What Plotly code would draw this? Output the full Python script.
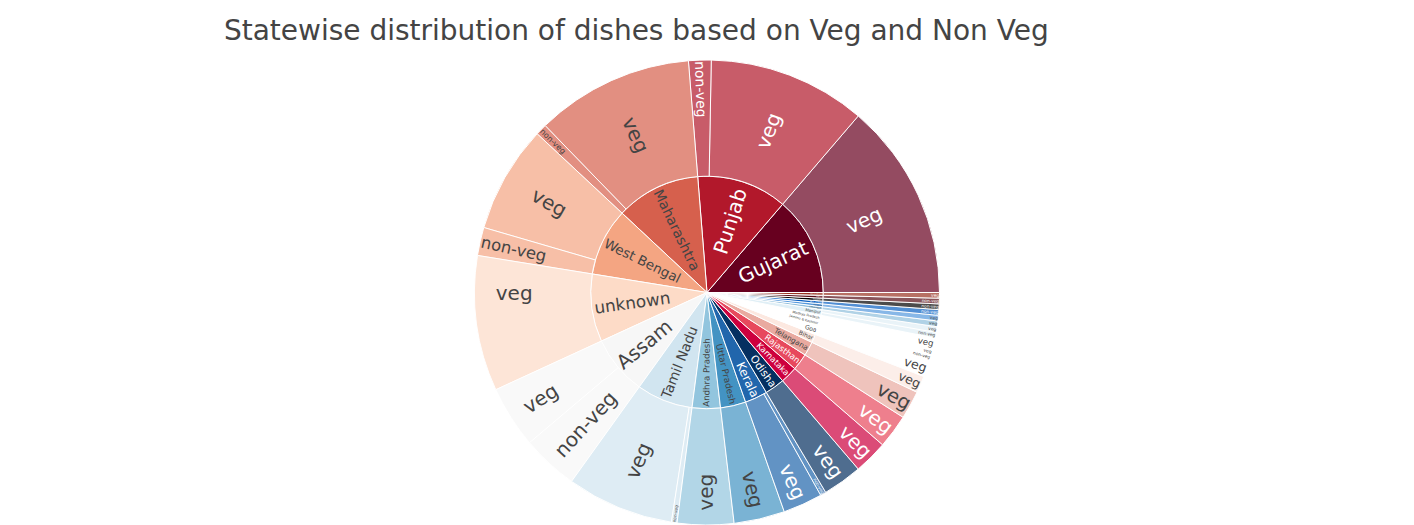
import plotly.graph_objects as go

# Number of dishes per state, split by diet
states = ["Gujarat", "Punjab", "Maharashtra", "West Bengal", "unknown", "Assam",
          "Tamil Nadu", "Andhra Pradesh", "Uttar Pradesh", "Kerala", "Odisha",
          "Karnataka", "Rajasthan", "Telangana", "Bihar", "Goa", "Jammu & Kashmir",
          "Madhya Pradesh", "Manipur", "Chhattisgarh", "Haryana", "NCT of Delhi",
          "Nagaland", "Tripura", "Uttarakhand"]
veg_counts = [35, 28, 28, 19, 24, 11, 19, 10, 9, 7, 7, 6, 6, 5, 3, 3, 1, 2, 1, 1, 1, 0, 0, 0, 1]
nonveg_counts = [0, 4, 2, 5, 0, 10, 1, 0, 0, 1, 0, 0, 0, 0, 0, 0, 1, 0, 1, 0, 0, 1, 1, 1, 0]

colorway = ['#67001f', '#b2182b', '#d6604d', '#f4a582', '#fddbc7', '#f7f7f7',
            '#d1e5f0', '#92c5de', '#4393c3', '#2166ac', '#053061']

ids, labels, parents, values = [], [], [], []
for s, v, n in zip(states, veg_counts, nonveg_counts):
    ids.append(s); labels.append(s); parents.append(""); values.append(v + n)
for s, v, n in zip(states, veg_counts, nonveg_counts):
    pairs = [("veg", v), ("non-veg", n)]
    if n >= v:
        pairs = [("non-veg", n), ("veg", v)]
    for d, c in pairs:
        if c > 0:
            ids.append(s + "/" + d); labels.append(d); parents.append(s); values.append(c)

fig = go.Figure(go.Sunburst(
    ids=ids, labels=labels, parents=parents, values=values,
    branchvalues="total",
    insidetextorientation="radial",
    textfont=dict(size=20, family="DejaVu Sans"),
))
fig.update_layout(
    width=1414, height=525,
    title=dict(text="Statewise distribution of dishes based on Veg and Non Veg",
               x=0.45, y=0.943, yanchor="middle",
               font=dict(size=28, family="DejaVu Sans", color="#444")),
    font=dict(family="DejaVu Sans"),
    sunburstcolorway=colorway,
    extendsunburstcolors=True,
    margin=dict(t=60, b=0, l=80, r=80),
    paper_bgcolor="white",
)
fig.write_html("out.html")
